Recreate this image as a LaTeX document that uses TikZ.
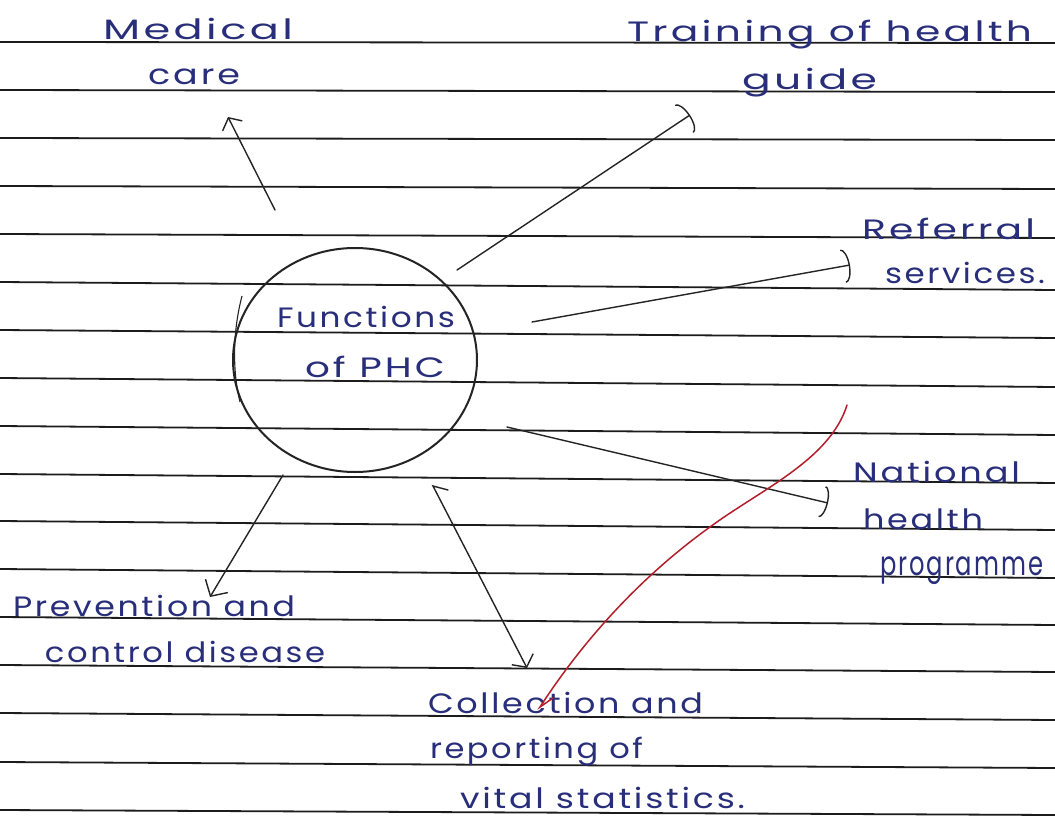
\documentclass[tikz,border=0pt]{standalone}
\usepackage{fontspec}
\usepackage{graphicx}
\usetikzlibrary{arrows.meta,shapes.geometric}
\newfontfamily\handfont[LetterSpace=8]{Poppins}
\definecolor{ink}{RGB}{40,46,122}
\definecolor{rulegrey}{RGB}{28,28,28}
\definecolor{pencil}{RGB}{36,36,36}
\definecolor{redpen}{RGB}{180,30,42}
% stretch a line of handwriting to a given width (in pt), keeping its height
\newcommand{\inkline}[2]{\resizebox{#1pt}{\height}{#2}}
\tikzset{
  hand/.style={font=\handfont\fontsize{28}{30}\selectfont, text=ink,
    anchor=base west, inner sep=0pt, outer sep=0pt},
  ruled/.style={rulegrey, line width=1.8pt},
  conn/.style={pencil, line width=1.4pt, line cap=round},
  arcbarb/.style={-{Arc Barb[length=7pt,width=34pt]}},
  redmark/.style={redpen, line width=1.5pt, line cap=round},
}
\begin{document}
\begin{tikzpicture}[x=1pt,y=-1pt]
\useasboundingbox (0,0) rectangle (1055,816);
\fill[white] (0,0) rectangle (1055,816);

% ruled notebook lines
\foreach \yl/\yr in {42/43, 90/92, 138/140, 186/189, 234/238, 282/290, 330/338,
  378/387, 426/435, 474/483, 521/530, 569/578, 617/625, 665/672, 713/720,
  762/768, 810/815}
  \draw[ruled] (0,\yl) -- (1055,\yr);

% central bubble
\node[draw=pencil, line width=2pt, ellipse, minimum width=244pt,
  minimum height=224pt, inner sep=0pt] (phc) at (355,360) {};
\draw[pencil, line width=1.1pt] (242,296) .. controls (233,330) and (232,370) .. (240,402);
\node[hand] (fn1) at (277,327) {\inkline{178}{Functions}};
\node[hand] (fn2) at (305,377) {\inkline{140}{of PHC}};

% labels
\node[hand] (med1) at (103,40) {\inkline{190}{Medical}};
\node[hand] (med2) at (148,84) {\inkline{92}{care}};
\node[hand] (tr1) at (627,42) {\inkline{405}{Training of health}};
\node[hand] (tr2) at (742,89) {\inkline{135}{guide}};
\node[hand] (ref1) at (862,239) {\inkline{173}{Referral}};
\node[hand] (ref2) at (885,283) {\inkline{160}{services.}};
\node[hand] (nat1) at (853,482) {\inkline{167}{National}};
\node[hand] (nat2) at (863,529) {\inkline{120}{health}};
\node[hand] (nat3) at (880,575) {\resizebox{163pt}{1.2\height}{programme}};
\node[hand] (prv1) at (13,616) {\inkline{282}{Prevention and}};
\node[hand] (prv2) at (45,662) {\inkline{280}{control disease}};
\node[hand] (col1) at (428,713) {\inkline{275}{Collection and}};
\node[hand] (col2) at (430,758) {\inkline{213}{reporting of}};
\node[hand] (col3) at (460,808) {\inkline{285}{vital statistics.}};

% connector end points
\coordinate (medS) at (275,210);
\coordinate (medT) at (228,117);
\coordinate (trS) at (457,270);
\coordinate (trT) at (690,115);
\coordinate (refS) at (532,322);
\coordinate (refT) at (850,265);
\coordinate (natS) at (507,427);
\coordinate (natT) at (828,503);
\coordinate (prvS) at (283,475);
\coordinate (prvT) at (210,597);
\coordinate (colH) at (448,490);
\coordinate (colS) at (433,486);
\coordinate (colT) at (527,668);

% connectors
\draw[conn, -{Straight Barb[length=9pt,width=22pt]}] (medS) -- (medT);
\draw[conn, arcbarb] (trS) -- (trT);
\draw[conn, arcbarb] (refS) -- (refT);
\draw[conn, -{Arc Barb[length=6pt,width=32pt]}] (natS) -- (natT);
\draw[conn, -{Straight Barb[length=12pt,width=26pt]}] (prvS) -- (prvT);
\draw[conn, -{Straight Barb[length=9pt,width=24pt]}] (colH) -- (colS) -- (colT);

% red tick across the page
\draw[redmark] (847,405) .. controls (830,460) and (760,490) .. (710,527)
  .. controls (650,570) and (590,630) .. (540,707) -- (553,698);
\end{tikzpicture}
\end{document}
